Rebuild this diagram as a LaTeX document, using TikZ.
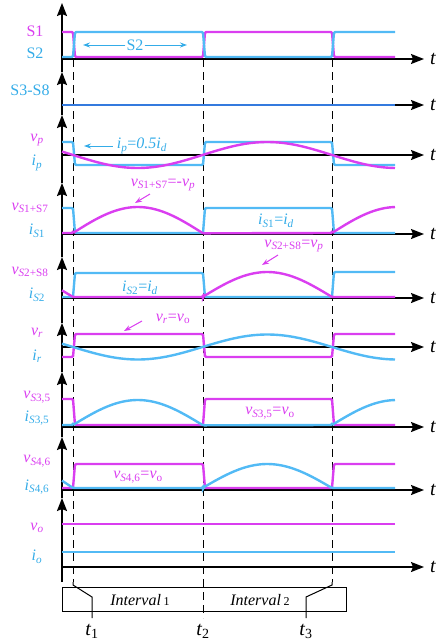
\documentclass[tikz,border=0pt]{standalone}
\usepackage{fontspec}
\setmainfont{Liberation Serif}
\usetikzlibrary{arrows.meta}
\definecolor{sigmag}{RGB}{218,62,240}
\definecolor{sigcyan}{RGB}{82,186,245}
\definecolor{txtcyan}{RGB}{52,172,232}
\definecolor{sigblue}{RGB}{52,122,222}
\newcommand{\wv}[2]{\textit{#1}\textsubscript{#2}}

\begin{document}
\begin{tikzpicture}[
    x=1pt, y=-1pt,
    axis/.style={line width=1.6pt, -{Stealth[length=13pt, width=10pt, inset=2pt]}},
    vaxis/.style={line width=1.8pt, -{Stealth[length=13pt, width=10pt, inset=2pt]}},
    magwave/.style={draw=sigmag, line width=2.4pt, rounded corners=1.2pt},
    cyanwave/.style={draw=sigcyan, line width=2.4pt, rounded corners=1.2pt},
    tline/.style={line width=1pt, dash pattern=on 8pt off 5pt},
    maglbl/.style={text=sigmag, font=\fontsize{16}{18}\selectfont, inner sep=1pt},
    cyanlbl/.style={text=txtcyan, font=\fontsize{16}{18}\selectfont, inner sep=1pt},
    note/.style={-{Stealth[length=7pt, width=5pt]}, line width=1pt},
    tlbl/.style={font=\fontsize{20}{22}\selectfont, inner sep=1pt}
]
\useasboundingbox (0,0) rectangle (438,643);
\def\T{129.5}

% time instants (dashed)
\foreach \tx in {73,332} \draw[tline] (\tx,59) -- (\tx,582);
\draw[tline] (203,59) -- (203,618);

% horizontal axes
\foreach \ay [count=\i] in {59,105,155,234,298,347,427,490,567} {
  \draw[axis] (62,\ay) -- (424,\ay);
  \node[tlbl] (t\i) at (433,\ay) {\textit{t}};
}
% vertical axis with one arrow per panel
\foreach \ya/\yb in {582/498,498/437,437/372,372/323,323/257,257/183,183/115,115/72,72/3}
  \draw[vaxis] (62,\ya) -- (62,\yb);

% S1, S2
\draw[magwave] (62,32) -- (73,32) -- (75,57) -- (203,57) -- (205,32) -- (332,32) -- (334,57) -- (395,57);
\draw[cyanwave] (62,57) -- (73,57) -- (75,32) -- (203,32) -- (205,57) -- (332,57) -- (334,32) -- (395,32);
\node[maglbl] (lS1) at (35,31) {S1};
\node[cyanlbl] (lS2) at (35,53) {S2};
\node[cyanlbl] (nS2) at (135,45) {S2};
\draw[note, draw=txtcyan, fill=txtcyan] (nS2.west) -- (83,45);
\draw[note, draw=txtcyan, fill=txtcyan] (nS2.east) -- (187,45);

% S3-S8
\draw[draw=sigblue, line width=2.4pt] (62,105) -- (395,105);
\node[cyanlbl] (lS38) at (30,90) {S3-S8};

% vp, ip
\draw[cyanwave] (62,142) -- (73,142) -- (75,165) -- (203,165) -- (205,142) -- (332,142) -- (334,165) -- (395,165);
\draw[magwave] plot[domain=62:395, samples=120] (\x, {155+13*sin((\x-73)/\T*180)});
\node[maglbl] (lvp) at (37,140) {\wv{v}{\textit{p}}};
\node[cyanlbl] (lip) at (37,163) {\wv{i}{\textit{p}}};
\node[cyanlbl] (nip) at (142,146) {\wv{i}{\textit{p}}=\textit{0.5i}\textsubscript{\textit{d}}};
\draw[note, draw=txtcyan, fill=txtcyan] (nip.west) ++(-3,0) -- (84,146);

% vS1+S7, iS1
\draw[cyanwave] (62,208) -- (73,208) -- (75,233) -- (203,233) -- (205,208) -- (332,208) -- (334,233) -- (395,233);
\draw[magwave] (62,233) -- (73,233) -- plot[domain=73:203, samples=60] (\x, {233-26*sin((\x-73)/\T*180)})
  -- (332,233) -- plot[domain=332:395, samples=30] (\x, {233-26*sin((\x-73)/\T*180)});
\node[maglbl] (lvs17) at (30,208) {\wv{v}{\textit{S}1+S7}};
\node[cyanlbl] (lis1) at (37,231) {\wv{i}{\textit{S}1}};
\node[maglbl] (nvs17) at (163,185) {\wv{v}{\textit{S}1+S7}=-\wv{v}{\textit{p}}};
\draw[note, draw=sigmag, fill=sigmag] (150,194) -- (135,203);
\node[cyanlbl] (nis1) at (276,221) {\wv{i}{\textit{S}1}=\wv{i}{\textit{d}}};

% vS2+S8, iS2
\draw[cyanwave] (62,297) -- (73,297) -- (75,273) -- (203,273) -- (205,297) -- (332,297) -- (334,272) -- (395,272);
\draw[magwave] plot[domain=62:73, samples=8] (\x, {297+25*sin((\x-73)/\T*180)}) -- (203,297)
  -- plot[domain=203:332, samples=60] (\x, {297+25*sin((\x-73)/\T*180)}) -- (395,297);
\node[maglbl] (lvs28) at (30,272) {\wv{v}{\textit{S}2+S8}};
\node[cyanlbl] (lis2) at (37,295) {\wv{i}{\textit{S}2}};
\node[maglbl] (nvs28) at (294,246) {\wv{v}{\textit{S}2+S8}=\wv{v}{\textit{p}}};
\draw[note, draw=sigmag, fill=sigmag] (278,255) -- (262,265);
\node[cyanlbl] (nis2) at (140,288) {\wv{i}{\textit{S}2}=\wv{i}{\textit{d}}};

% vr, ir
\draw[magwave] (62,357) -- (73,357) -- (75,334) -- (203,334) -- (205,357) -- (332,357) -- (334,334) -- (395,334);
\draw[cyanwave] plot[domain=62:395, samples=120] (\x, {347+12.5*sin((\x-73)/\T*180)});
\node[maglbl] (lvr) at (37,333) {\wv{v}{\textit{r}}};
\node[cyanlbl] (lir) at (37,356) {\wv{i}{\textit{r}}};
\node[maglbl] (nvr) at (173,319) {\wv{v}{\textit{r}}=\wv{v}{o}};
\draw[note, draw=sigmag, fill=sigmag] (142,321) -- (124,331);

% vS3,5, iS3,5
\draw[magwave] (62,399) -- (73,399) -- (75,425) -- (203,425) -- (205,399) -- (332,399) -- (334,425) -- (395,425);
\draw[cyanwave] (62,425) -- (73,425) -- plot[domain=73:203, samples=60] (\x, {425-25*sin((\x-73)/\T*180)})
  -- (332,425) -- plot[domain=332:395, samples=30] (\x, {425-25*sin((\x-73)/\T*180)});
\node[maglbl] (lvs35) at (37,397) {\wv{v}{\textit{S}3,5}};
\node[cyanlbl] (lis35) at (37,418) {\wv{i}{\textit{S}3,5}};
\node[maglbl] (nvs35) at (270,413) {\wv{v}{\textit{S}3,5}=\wv{v}{o}};

% vS4,6, iS4,6
\draw[magwave] (62,488) -- (73,488) -- (75,464) -- (203,464) -- (205,488) -- (332,488) -- (334,464) -- (395,464);
\draw[cyanwave] plot[domain=62:73, samples=8] (\x, {488+28*sin((\x-73)/\T*180)}) -- (203,488)
  -- plot[domain=203:332, samples=60] (\x, {488+24*sin((\x-73)/\T*180)}) -- (395,488);
\node[maglbl] (lvs46) at (37,461) {\wv{v}{\textit{S}4,6}};
\node[cyanlbl] (lis46) at (37,487) {\wv{i}{\textit{S}4,6}};
\node[maglbl] (nvs46) at (138,477) {\wv{v}{\textit{S}4,6}=\wv{v}{o}};

% vo, io
\draw[magwave] (62,524) -- (395,524);
\draw[cyanwave] (62,552) -- (395,552);
\node[maglbl] (lvo) at (37,528) {\wv{v}{\textit{o}}};
\node[cyanlbl] (lio) at (37,557) {\wv{i}{\textit{o}}};

% intervals
\node[draw, line width=1pt, minimum width=284pt, minimum height=24pt, anchor=north west, inner sep=0pt] (ibox) at (62,587) {};
\node[font=\fontsize{16}{18}\selectfont] (int1) at (140,600) {\textit{Interval}\,{\fontsize{12}{13}\selectfont 1}};
\node[font=\fontsize{16}{18}\selectfont] (int2) at (260,600) {\textit{Interval}\,{\fontsize{12}{13}\selectfont 2}};
\draw[line width=1pt] (73,582) -- (73,585) -- (92,597) -- (92,618);
\draw[line width=1pt] (332,582) -- (332,585) -- (306,597) -- (306,618);
\node[tlbl] (lt1) at (92,631) {\wv{t}{1}};
\node[tlbl] (lt2) at (203,631) {\wv{t}{2}};
\node[tlbl] (lt3) at (306,631) {\wv{t}{3}};
\end{tikzpicture}
\end{document}
